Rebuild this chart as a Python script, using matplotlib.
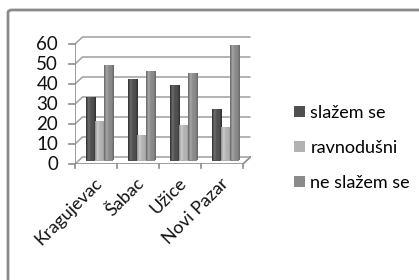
import numpy as np
import matplotlib
matplotlib.use("Agg")
import matplotlib.pyplot as plt
from matplotlib.patches import Patch, FancyBboxPatch
from matplotlib.colors import LinearSegmentedColormap

categories = ["Kragujevac", "Šabac", "Užice", "Novi Pazar"]
series_names = ["slažem se", "ravnodušni", "ne slažem se"]
slazem = [32, 41, 38, 26]
ravnodusni = [20, 13, 18, 17]
ne_slazem = [48, 45, 44, 58]
yticks = [0, 10, 20, 30, 40, 50, 60]

series = [slazem, ravnodusni, ne_slazem]
base_colors = ["#505050", "#b2b2b2", "#8a8a8a"]
edge_dark = ["#2e2e2e", "#8e8e8e", "#666666"]
edge_light = ["#6e6e6e", "#cfcfcf", "#a8a8a8"]

plt.rcParams["font.family"] = ["Lato", "DejaVu Sans"]

W, H = 419, 280
fig = plt.figure(figsize=(W / 100, H / 100), dpi=100)

# outer frame (only top/left edges visible)
frame = FancyBboxPatch((8 / W, -0.2), 1.2, 1.2 - 10 / H,
                       boxstyle="round,pad=0,rounding_size=0.01",
                       transform=fig.transFigure, fill=False,
                       edgecolor="#8a8a8a", linewidth=2.0)
fig.patches.append(frame)

x0_px, y0_px = 75, 280 - 164
ppc = 42.0        # pixels per category
ppu = 2.0         # pixels per value unit
xmax, ymax = 4.2, 64
ax = fig.add_axes([x0_px / W, y0_px / H, xmax * ppc / W, ymax * ppu / H])
ax.set_xlim(0, xmax)
ax.set_ylim(0, ymax)
ax.axis("off")

n = len(categories)
dx, dy = 7.5 / ppc, 7.0 / ppu
grid_c = "#a6a6a6"
axis_c = "#8c8c8c"
txt_c = "#111111"

# back wall gridlines with left-wall diagonals
for v in yticks:
    ax.plot([0, dx, n + dx], [v, v + dy, v + dy], color=grid_c, lw=1.2, zorder=1,
            solid_capstyle="butt")
    ax.plot([-0.14, 0], [v, v], color=axis_c, lw=1.2, zorder=1, clip_on=False)
    ax.text(-0.4, v, str(v), ha="right", va="center", fontsize=13.5,
            color=txt_c, clip_on=False)
# floor
ax.plot([0, n], [0, 0], color=axis_c, lw=1.2, zorder=1)
ax.plot([n, n + dx], [0, dy], color=axis_c, lw=1.2, zorder=1)
ax.plot([0, 0], [0, 60], color=axis_c, lw=1.2, zorder=1)
for i in range(n + 1):
    ax.plot([i, i], [0, -1.8], color=axis_c, lw=1.2, zorder=1, clip_on=False)

# bars (mid depth)
bw = 0.215
offsets = [-bw, 0, bw]
prof = np.linspace(0, 1, 40)
for s, vals in enumerate(series):
    cmap = LinearSegmentedColormap.from_list(
        "c%d" % s, [edge_dark[s], edge_light[s], base_colors[s], base_colors[s], edge_dark[s]])
    for i, v in enumerate(vals):
        cx = i + 0.5 + offsets[s] + dx / 2
        xa, xb = cx - bw / 2, cx + bw / 2
        ya, yb = dy / 2, v + dy / 2
        bars = ax.bar([cx], [v], width=bw, bottom=dy / 2, color=base_colors[s],
                      zorder=3, linewidth=0)
        im = ax.imshow(prof[np.newaxis, :], extent=[xa, xb, ya, yb], aspect="auto",
                       cmap=cmap, zorder=3.5, interpolation="bilinear")
        im.set_clip_path(bars.patches[0])

ax.set_xlim(0, xmax)
ax.set_ylim(0, ymax)

for i, c in enumerate(categories):
    ax.text(i + 0.45, -5.5, c, rotation=45, ha="right", va="top",
            rotation_mode="anchor", fontsize=13, color=txt_c, clip_on=False)

handles = [Patch(facecolor=base_colors[k], edgecolor="none") for k in range(3)]
fig.legend(handles, series_names, loc="upper left",
           bbox_to_anchor=(285 / W, 1 - 96 / H), frameon=False, fontsize=13,
           handlelength=0.6, handleheight=0.6, handletextpad=0.3,
           labelspacing=1.05, borderpad=0)

fig.savefig("out.png", dpi=100)
